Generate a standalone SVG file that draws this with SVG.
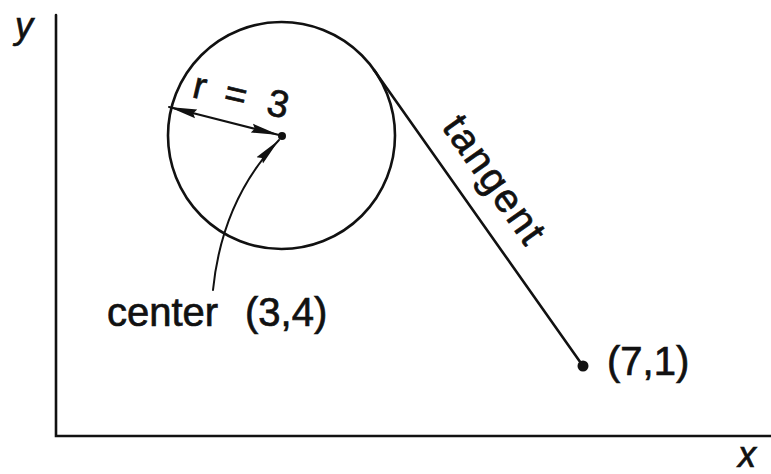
<svg xmlns="http://www.w3.org/2000/svg" width="771" height="474" viewBox="0 0 771 474">
  <style>
    .ln { fill: none; stroke: #111; stroke-linecap: round; }
    .txt { font-family: "Liberation Sans", Arial, Helvetica, sans-serif; fill: #111; stroke: #111; stroke-width: 0.7; }
    .ax { font-family: "Liberation Sans", Arial, sans-serif; font-style: italic; fill: #111; stroke: #111; stroke-width: 0.7; }
    .dot { fill: #111; }
  </style>
  <defs>
    <marker id="ah" markerWidth="30" markerHeight="12" refX="28" refY="6" orient="auto-start-reverse" markerUnits="userSpaceOnUse">
      <path d="M0,1.5 L28,6 L0,10.5 L3,6 Z" fill="#111"/>
    </marker>
  </defs>
  <rect x="0" y="0" width="771" height="474" fill="#fff"/>

  <g id="axes">
    <path class="ln" d="M56,15 L56,436 L771,436" stroke-width="2.6" stroke-linecap="butt"/>
    <text class="ax" x="15" y="38" font-size="36">y</text>
    <text class="ax" x="738" y="467" font-size="36">x</text>
  </g>

  <g id="circle">
    <circle class="ln" cx="281.5" cy="135.5" r="113.5" stroke-width="2.6"/>
  </g>

  <g id="center">
    <circle class="dot" cx="282" cy="136" r="4"/>
    <text class="txt" x="107" y="326" font-size="40">center<tspan x="245">(3,4)</tspan></text>
  </g>

  <g id="point71">
    <circle class="dot" cx="583" cy="366" r="5.5"/>
    <text class="txt" x="607" y="375" font-size="40">(7,1)</text>
  </g>

  <g id="radius-label">
    <text class="txt" font-size="38" transform="translate(191,97) rotate(13)"><tspan x="0">r</tspan><tspan x="32">=</tspan><tspan x="76">3</tspan></text>
  </g>

  <g id="tangent-label">
    <text class="txt" font-size="40" transform="translate(441,127) rotate(54.8)" textLength="147" lengthAdjust="spacing">tangent</text>
  </g>

  <g id="connectors">
    <line class="ln" x1="374" y1="70" x2="583" y2="366" stroke-width="2.6"/>
    <line class="ln" x1="169" y1="107" x2="279" y2="135" stroke-width="2" marker-start="url(#ah)" marker-end="url(#ah)"/>
    <path class="ln" d="M213,290 Q222,200 279,140" stroke-width="2" marker-end="url(#ah)"/>
  </g>
</svg>
